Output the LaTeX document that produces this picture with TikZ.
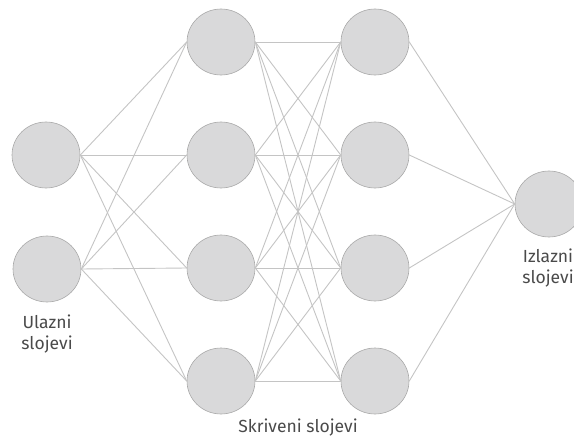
\documentclass[tikz,border=0pt]{standalone}
\usepackage{fontspec}
\setsansfont{Fira Sans}
\usetikzlibrary{shapes.geometric}
\definecolor{ispuna}{HTML}{D9D9DA}
\definecolor{rub}{HTML}{A9A9A9}
\definecolor{linija}{HTML}{C4C4C4}
\definecolor{tekst}{HTML}{4A4A4A}
\tikzset{
  neuron/.style={ellipse, draw=rub, fill=ispuna, line width=0.6pt,
    minimum width=68pt, minimum height=66pt, inner sep=0pt},
  veza/.style={linija, line width=0.9pt},
  oznaka/.style={font=\sffamily\fontsize{17.5}{21}\selectfont, text=tekst, align=center}
}
\begin{document}
\begin{tikzpicture}[x=1pt,y=-1pt]
    \useasboundingbox (0,0) rectangle (574,439);

    % Ulazni sloj
    \node[neuron] (u1) at (46,155) {};
    \node[neuron] (u2) at (47,269) {};

    % Skriveni slojevi
    \foreach \i/\y in {1/42,2/155,3/268,4/381} {
      \node[neuron] (a\i) at (221,\y) {};
      \node[neuron] (b\i) at (375,\y) {};
    }

    % Izlazni sloj
    \node[neuron] (iz) at (549,204) {};

    % Veze
    \foreach \u in {1,2}
      \foreach \j in {1,...,4}
        \draw[veza] (u\u.east) -- (a\j.west);
    \foreach \i in {1,...,4}
      \foreach \j in {1,...,4}
        \draw[veza] (a\i.east) -- (b\j.west);
    \foreach \j in {1,...,4}
      \draw[veza] (b\j.east) -- (iz.west);

    % Oznake
    \node[oznaka] (tu) at (47,334) {Ulazni\\slojevi};
    \node[oznaka] (ti) at (548,268) {Izlazni\\slojevi};
    \node[oznaka] (ts) at (298,428) {Skriveni slojevi};
\end{tikzpicture}
\end{document}
